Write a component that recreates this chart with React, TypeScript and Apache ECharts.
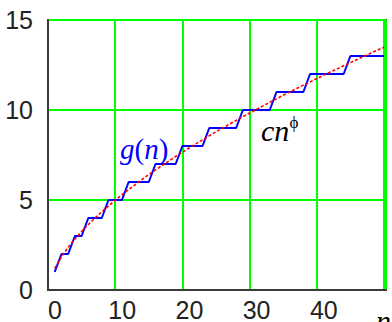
import React, { useEffect, useRef } from "react";
import * as echarts from "echarts";

// n = 1..50
const nValues: number[] = [
  1, 2, 3, 4, 5, 6, 7, 8, 9, 10, 11, 12, 13, 14, 15, 16, 17, 18, 19, 20, 21, 22, 23, 24, 25,
  26, 27, 28, 29, 30, 31, 32, 33, 34, 35, 36, 37, 38, 39, 40, 41, 42, 43, 44, 45, 46, 47, 48, 49, 50,
];
// g(n): step sequence (blue)
const gValues: number[] = [
  1, 2, 2, 3, 3, 4, 4, 4, 5, 5, 5, 6, 6, 6, 6, 7, 7, 7, 7, 8, 8, 8, 8, 9, 9,
  9, 9, 9, 10, 10, 10, 10, 10, 11, 11, 11, 11, 11, 12, 12, 12, 12, 12, 12, 13, 13, 13, 13, 13, 13,
];
// c n^phi curve (red)
const cValues: number[] = [
  1.2, 1.84, 2.37, 2.83, 3.25, 3.64, 4.0, 4.34, 4.67, 4.99, 5.29, 5.58, 5.86, 6.14, 6.41, 6.67,
  6.92, 7.17, 7.42, 7.65, 7.89, 8.12, 8.34, 8.57, 8.79, 9.0, 9.21, 9.42, 9.63, 9.83, 10.03, 10.23,
  10.43, 10.62, 10.82, 11.0, 11.19, 11.38, 11.56, 11.75, 11.93, 12.11, 12.28, 12.46, 12.63, 12.81,
  12.98, 13.15, 13.32, 13.48,
];
const xTicks: number[] = [0, 10, 20, 30, 40];
const yTicks: number[] = [0, 5, 10, 15];

const NUM_FONT = "Liberation Sans";
const SERIF = "Liberation Serif";

export default function App() {
  const ref = useRef<HTMLDivElement>(null);
  useEffect(() => {
    document.body.style.margin = "0";
    const chart = echarts.init(ref.current!, undefined, { renderer: "svg" });
    const gData = nValues.map((n, i) => [n, gValues[i]]);
    const cData = nValues.map((n, i) => [n, cValues[i]]);
    chart.setOption({
      animation: false,
      backgroundColor: "#ffffff",
      grid: {
        left: 48,
        right: 6,
        top: 20,
        bottom: 29,
        show: true,
        borderColor: "#3a3a3a",
        borderWidth: 2,
        backgroundColor: "transparent",
      },
      xAxis: {
        type: "value",
        min: 0,
        max: 50.3,
        interval: 10,
        axisLine: { show: true, lineStyle: { color: "#3a3a3a", width: 2 } },
        axisTick: { show: false },
        splitLine: { show: true, lineStyle: { color: "#00ff00", width: 2 } },
        axisLabel: {
          color: "#222",
          fontFamily: NUM_FONT,
          fontSize: 25,
          margin: 7,
          padding: [0, 0, 0, 14],
          showMaxLabel: false,
          formatter: (v: number) => (xTicks.includes(v) ? String(v) : ""),
        },
      },
      yAxis: {
        type: "value",
        min: 0,
        max: 15,
        interval: 5,
        axisLine: { show: true, lineStyle: { color: "#3a3a3a", width: 2 } },
        axisTick: { show: false },
        splitLine: { show: true, lineStyle: { color: "#00ff00", width: 2 } },
        axisLabel: {
          color: "#222",
          fontFamily: NUM_FONT,
          fontSize: 25,
          margin: 15,
          formatter: (v: number) => (yTicks.includes(v) ? String(v) : ""),
        },
      },
      series: [
        {
          type: "line",
          data: gData,
          showSymbol: false,
          lineStyle: { color: "#0000ff", width: 2 },
          z: 3,
        },
        {
          type: "line",
          data: cData,
          showSymbol: false,
          smooth: false,
          lineStyle: { color: "#ff0000", width: 1.6, type: [3, 2] },
          z: 4,
        },
      ],
      graphic: [
        {
          type: "text",
          x: 120,
          y: 149,
          style: {
            text: "{i|g}{r|(}{i|n}{r|)}",
            verticalAlign: "middle",
            align: "left",
            rich: {
              i: { fontFamily: SERIF, fontStyle: "italic", fontSize: 29, fill: "#0000ff" },
              r: { fontFamily: SERIF, fontSize: 29, fill: "#0000ff" },
            },
          },
          z: 10,
        },
        {
          type: "text",
          x: 261,
          y: 130,
          style: {
            text: "cn",
            fontFamily: SERIF,
            fontStyle: "italic",
            fontSize: 30,
            fill: "#000",
            verticalAlign: "middle",
            align: "left",
          },
          z: 10,
        },
        {
          type: "text",
          x: 294,
          y: 122,
          style: {
            text: "ϕ",
            fontFamily: SERIF,
            fontSize: 17,
            fill: "#000",
            verticalAlign: "middle",
            align: "center",
          },
          z: 10,
        },
        {
          type: "text",
          x: 376,
          y: 320,
          style: {
            text: "n",
            fontFamily: SERIF,
            fontStyle: "italic",
            fontSize: 30,
            fill: "#000",
            verticalAlign: "middle",
            align: "left",
          },
          z: 10,
        },
      ],
    });
    return () => chart.dispose();
  }, []);
  return <div ref={ref} style={{ width: 392, height: 322, position: "absolute", left: 0, top: 0 }} />;
}
